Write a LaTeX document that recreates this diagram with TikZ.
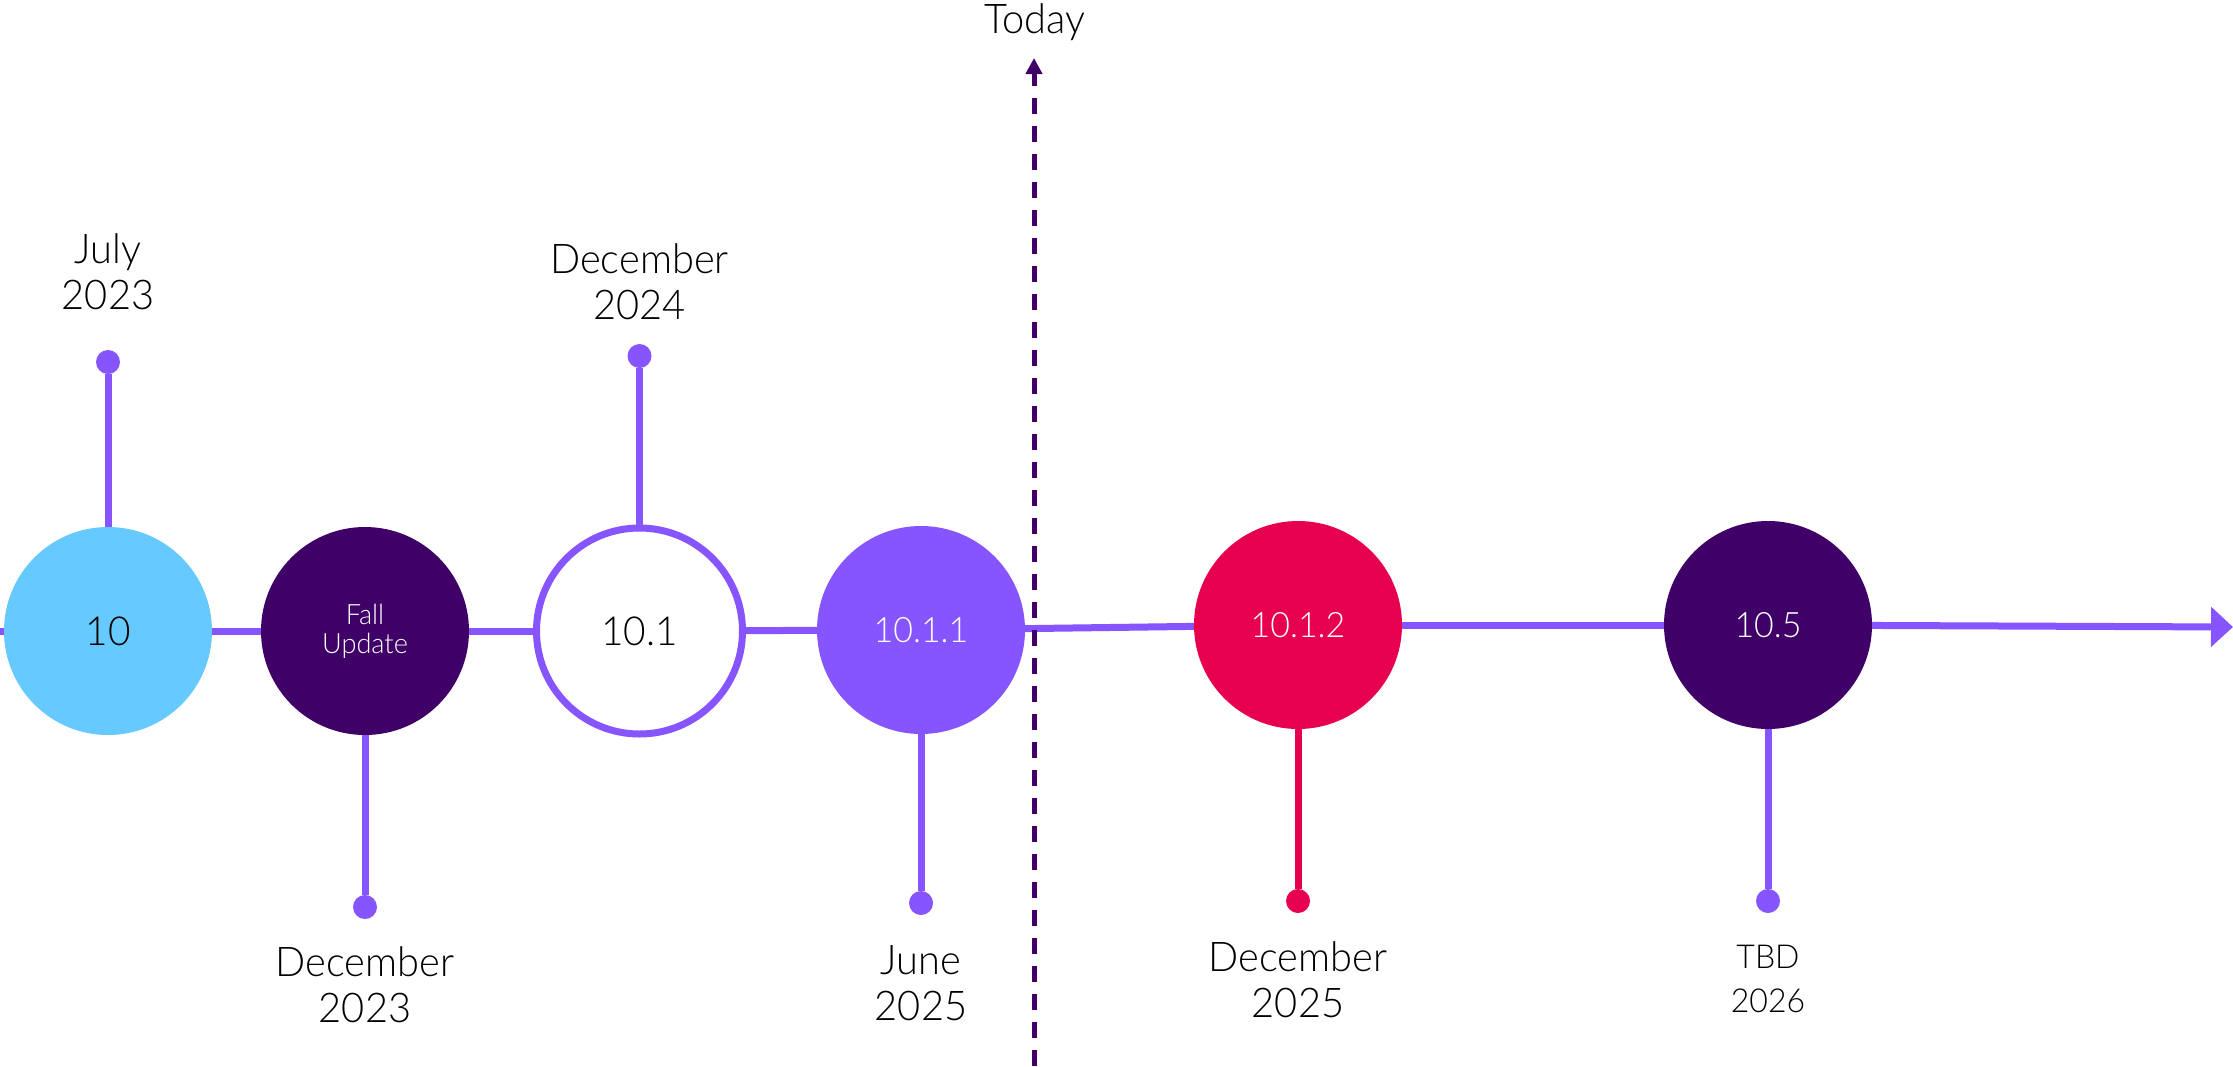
\documentclass[tikz,border=0pt]{standalone}
\usepackage{fontspec}
\setmainfont{Lato}[UprightFont=* Light, FakeStretch=0.97]
\usetikzlibrary{arrows.meta}
\definecolor{lblue}{HTML}{66C9FF}
\definecolor{dpurple}{HTML}{3F0068}
\definecolor{vpurple}{HTML}{8755FF}
\definecolor{crimson}{HTML}{E6004F}
\begin{document}
\begin{tikzpicture}[x=1pt,y=-1pt,
  milestone/.style={circle,minimum size=208pt,inner sep=0pt},
  dotmark/.style={circle,minimum size=24pt,inner sep=0pt,fill=#1},
  dotmark/.default=vpurple,
  datelabel/.style={align=center,anchor=base,inner sep=0pt,font=\fontsize{41}{46}\selectfont},
  timeline/.style={line width=7pt,draw=vpurple},
  stemline/.style={line width=7pt,draw=#1},
  stemline/.default=vpurple,
  bignum/.style={font=\fontsize{40}{44}\selectfont},
  smallnum/.style={font=\fontsize{35}{40}\selectfont,text=white},
]
\fill[white] (0,0) rectangle (2233,1066);
\useasboundingbox (0,0) rectangle (2233,1066);

% milestones
\node[milestone,fill=lblue,bignum] (c10) at (108,631) {10};
\node[milestone,fill=dpurple,text=white,align=center,font=\fontsize{28}{29}\selectfont] (cfall) at (365,631) {Fall\\Update};
\node[milestone,fill=white,draw=vpurple,line width=7pt,minimum size=206pt,bignum] (c101) at (639.5,631) {10.1};
\node[milestone,fill=vpurple,smallnum] (c1011) at (921,630) {10.1.1};
\node[milestone,fill=crimson,smallnum] (c1012) at (1298,625) {10.1.2};
\node[milestone,fill=dpurple,smallnum] (c105) at (1768,625) {10.5};

% timeline
\coordinate (tstart) at (0,631);
\coordinate (tend) at (2233,627);
\draw[timeline] (tstart) -- (c10);
\draw[timeline] (c10) -- (cfall);
\draw[timeline] (cfall) -- (c101);
\draw[timeline] (c101) -- (c1011);
\draw[timeline] (c1011) -- (c1012);
\draw[timeline] (c1012) -- (c105);
\draw[timeline,-{Triangle[length=22pt,width=39pt]}] (c105) -- (tend);

% pins
\node[dotmark] (pjul) at (108,362) {};
\node[dotmark] (pdec24) at (639.5,356) {};
\node[dotmark] (pdec23) at (365,907) {};
\node[dotmark] (pjun) at (921,903) {};
\node[dotmark=crimson] (pdec25) at (1298,901) {};
\node[dotmark] (ptbd) at (1768,901) {};
\draw[stemline] (pjul) -- (c10);
\draw[stemline] (pdec24) -- (c101);
\draw[stemline] (pdec23) -- (cfall);
\draw[stemline] (pjun) -- (c1011);
\draw[stemline=crimson] (pdec25) -- (c1012);
\draw[stemline] (ptbd) -- (c105);

% labels (anchor = baseline of the last line)
\node[datelabel] (ljul) at (108,309) {July\\2023};
\node[datelabel] (ldec24) at (639.5,319) {December\\2024};
\node[datelabel] (ldec23) at (365,1022) {December\\2023};
\node[datelabel] (ljun) at (921,1020) {June\\2025};
\node[datelabel] (ldec25) at (1298,1017) {December\\2025};
\node[datelabel,font=\fontsize{33}{44}\selectfont] (ltbd) at (1768,1012) {TBD\\2026};

% today
\node[anchor=base,inner sep=0pt,font=\fontsize{41}{44}\selectfont] (today) at (1035,33) {Today};
\coordinate (ttop) at (1034,58);
\coordinate (tbot) at (1034,1066);
\draw[dpurple,line width=5pt,dash pattern=on 16pt off 12pt,dash phase=3pt,{Triangle[length=16pt,width=16pt]}-] (ttop) -- (tbot);
\end{tikzpicture}
\end{document}
